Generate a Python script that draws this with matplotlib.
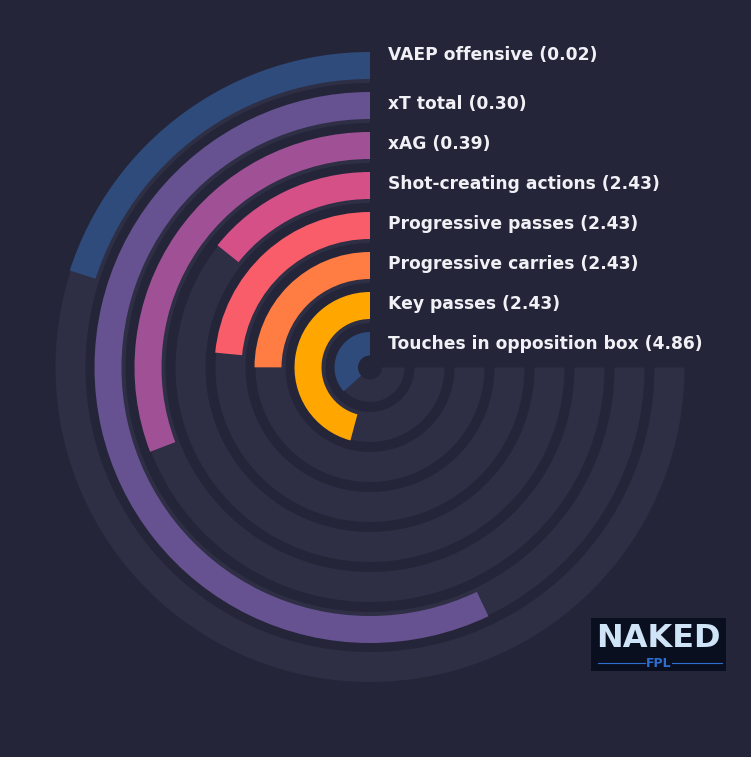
import numpy as np
import matplotlib
matplotlib.use("Agg")
import matplotlib.pyplot as plt
from matplotlib.transforms import ScaledTranslation

# ---- data ----
metrics = ["VAEP offensive", "xT total", "xAG", "Shot-creating actions",
           "Progressive passes", "Progressive carries", "Key passes",
           "Touches in opposition box"]
values = [0.02, 0.30, 0.39, 2.43, 2.43, 2.43, 2.43, 4.86]
percentiles = [26.7, 76.1, 41.1, 19.0, 31.3, 33.3, 61.1, 49.0]
colors = ["#2f4b7c", "#665191", "#a05195", "#d45087",
          "#f95d6a", "#ff7c43", "#ffa600", "#2f4b7c"]

BG = "#242539"
TRACK = "#2e2f44"
MAX_ANGLE = 1.5 * np.pi

W, H = 751, 757
fig = plt.figure(figsize=(W / 100, H / 100), dpi=100, facecolor=BG)

cx, cy, R = 370, 367.5, 320
ax = fig.add_axes([(cx - R) / W, (H - cy - R) / H, 2 * R / W, 2 * R / H],
                  projection="polar")
ax.set_theta_zero_location("N")
ax.set_theta_direction(1)
ax.set_ylim(0, R)
ax.axis("off")

outer = 314.5
pitch = 40
for i, (m, v, p, c) in enumerate(zip(metrics, values, percentiles, colors)):
    r_top = outer - pitch * i
    # background track
    ax.bar(0, 30, width=MAX_ANGLE, bottom=r_top - 30, align="edge",
           color=TRACK, linewidth=0, zorder=1)
    # value bar
    ax.bar(0, 27, width=MAX_ANGLE * p / 100, bottom=r_top - 26, align="edge",
           color=c, linewidth=0, zorder=2)
    dy = 11 if i == 0 else 1.5
    tr = ax.transData + ScaledTranslation(18 / 100, dy / 100, fig.dpi_scale_trans)
    ax.text(0, r_top - 13, f"{m} ({v:.2f})", transform=tr, ha="left",
            va="center", color="#f0f0f5", fontsize=12.3, fontweight="bold",
            family="DejaVu Sans", zorder=5)

# centre hole
ax.bar(0, 12, width=2 * np.pi, bottom=0, color=BG, linewidth=0, zorder=3)

# logo
lx0, ly0, lx1, ly1 = 591, 618, 726, 671
lax = fig.add_axes([lx0 / W, (H - ly1) / H, (lx1 - lx0) / W, (ly1 - ly0) / H])
lax.set_facecolor("#0a0f20")
lax.set_xlim(0, 1)
lax.set_ylim(0, 1)
lax.set_xticks([])
lax.set_yticks([])
for s in lax.spines.values():
    s.set_visible(False)
lax.text(0.5, 0.62, "NAKED", ha="center", va="center", color="#cfe4f7",
         fontsize=23, fontweight="bold", family="DejaVu Sans")
lax.text(0.5, 0.15, "FPL", ha="center", va="center", color="#2d6ed0",
         fontsize=9, fontweight="bold", family="DejaVu Sans")
lax.plot([0.05, 0.40], [0.15, 0.15], color="#2d6ed0", lw=0.8)
lax.plot([0.60, 0.97], [0.15, 0.15], color="#2d6ed0", lw=0.8)

fig.savefig("out.png", dpi=100, facecolor=BG)
